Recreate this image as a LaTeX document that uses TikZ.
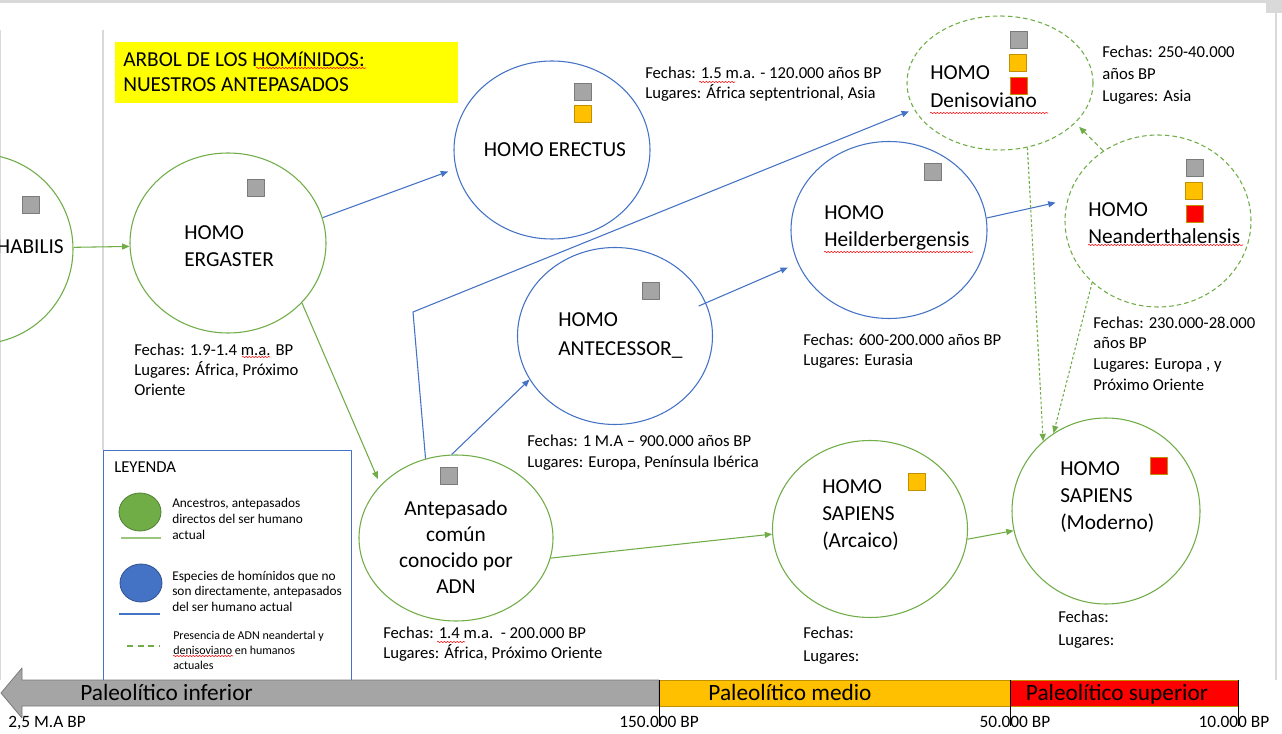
\documentclass[tikz,border=0pt]{standalone}
\usepackage{fontspec}
\setmainfont{Carlito}
\usetikzlibrary{arrows.meta,shapes.geometric,decorations.pathmorphing}

\definecolor{grnline}{HTML}{70AD47}
\definecolor{grnedge}{HTML}{507E32}
\definecolor{bluline}{HTML}{4472C4}
\definecolor{bluedge}{HTML}{2F528F}
\definecolor{sqgray}{HTML}{A5A5A5}
\definecolor{sqedge}{HTML}{7A7A7A}
\definecolor{orng}{HTML}{FFC000}
\definecolor{gold}{HTML}{BF9000}
\definecolor{ttlyel}{HTML}{FFFF00}
\definecolor{frame}{HTML}{D9D9D9}

\tikzset{
  hom/.style={ellipse,inner sep=0pt,line width=0.8pt},
  ances/.style={hom,draw=grnline},
  otra/.style={hom,draw=bluline},
  adn/.style={hom,draw=grnline,dash pattern=on 3.4pt off 2.3pt},
  lbl/.style={anchor=base west,align=left,inner sep=0pt,font=\fontsize{16}{20.25}\selectfont},
  info/.style={anchor=base west,align=left,inner sep=0pt,font=\fontsize{12.5}{15.5}\selectfont},
  grnarr/.style={->,draw=grnline,line width=0.8pt},
  bluarr/.style={->,draw=bluline,line width=0.8pt},
  adnarr/.style={->,draw=grnline,line width=0.8pt,dash pattern=on 2pt off 1.6pt},
  sqg/.style={fill=sqgray,draw=sqedge,line width=0.6pt},
  sqo/.style={fill=orng,draw=gold,line width=0.6pt},
  sqr/.style={fill=red,draw=gold,line width=0.6pt},
  spell/.style={draw=red,line width=0.4pt,decorate,decoration={snake,amplitude=0.45pt,segment length=2.4pt}}
}

\begin{document}
\begin{tikzpicture}[x=0.75pt,y=-0.75pt,>={Triangle[length=5.5pt,width=4.5pt]},line join=round]
  \useasboundingbox (0,0) rectangle (1282,734);
  \fill[white] (0,0) rectangle (1282,734);
  \fill[frame] (0,0) rectangle (1266,3);
  \fill[frame] (1266,0) rectangle (1282,13);
  \draw[frame,line width=0.8pt] (0.5,30) -- (0.5,680);
  \draw[frame,line width=0.8pt] (103,30) -- (103,450);
  \draw[frame,line width=0.8pt] (1276,13) -- (1276,680);

  % titulo
  \node[fill=ttlyel,minimum width=257.25pt,minimum height=45.75pt,inner sep=0pt,anchor=north west] (titulo) at (115,42) {};
  \node[lbl,font=\fontsize{16}{18.75}\selectfont] (titulo-txt) at (123,92) {ARBOL DE LOS HOMíNIDOS:\\NUESTROS ANTEPASADOS};
  \draw[spell] (256,68) -- (366,68);

  % especies
  \node[ances,minimum width=142.5pt,minimum height=142.5pt] (habilis) at (-22,249) {};
  \node[ances,minimum width=147pt,minimum height=135pt] (ergaster) at (228,243) {};
  \node[otra,minimum width=147pt,minimum height=133.5pt] (erectus) at (552,150) {};
  \node[otra,minimum width=146.25pt,minimum height=132.75pt] (antecessor) at (615,336) {};
  \node[otra,minimum width=147pt,minimum height=132.75pt] (heil) at (889,230) {};
  \node[adn,minimum width=139.5pt,minimum height=100.5pt] (denis) at (1000,83) {};
  \node[adn,minimum width=139.5pt,minimum height=129pt] (neander) at (1158,221) {};
  \node[ances,minimum width=145.5pt,minimum height=124.5pt] (antepasado) at (456,538) {};
  \node[ances,minimum width=146.25pt,minimum height=132.75pt] (arcaico) at (870,529) {};
  \node[ances,minimum width=141pt,minimum height=139.5pt] (moderno) at (1106,511) {};

  \node[lbl,anchor=base east] (habilis-txt) at (64,254) {HABILIS};
  \node[lbl] (ergaster-txt) at (184,267) {HOMO\\ERGASTER};
  \node[lbl,anchor=base] (erectus-txt) at (555,157) {HOMO ERECTUS};
  \node[lbl,font=\fontsize{16}{21}\selectfont] (antecessor-txt) at (558,355) {HOMO\\ANTECESSOR\_};
  \node[lbl] (heil-txt) at (824,247) {HOMO\\Heilderbergensis};
  \node[lbl,font=\fontsize{16}{21}\selectfont] (denis-txt) at (930,108) {HOMO\\Denisoviano};
  \node[lbl] (neander-txt) at (1088,244) {HOMO\\Neanderthalensis};
  \node[lbl,anchor=base,align=center,font=\fontsize{16}{19.5}\selectfont] (antepasado-txt) at (456,593) {Antepasado\\común\\conocido por\\ADN};
  \node[lbl] (arcaico-txt) at (822,547) {HOMO\\SAPIENS\\(Arcaico)};
  \node[lbl,font=\fontsize{16}{19.9}\selectfont] (moderno-txt) at (1060,529) {HOMO\\SAPIENS\\(Moderno)};
  \draw[spell] (824,252) -- (973,252);
  \draw[spell] (930,113) -- (1048,113);
  \draw[spell] (1088,245) -- (1243,245);

  % marcas de ADN
  \filldraw[sqg] (22,196) rectangle ++(17,17);
  \filldraw[sqg] (247,179) rectangle ++(17,17);
  \filldraw[sqg] (574,83) rectangle ++(17,17);
  \filldraw[sqo] (574,105) rectangle ++(17,17);
  \filldraw[sqg] (642,282) rectangle ++(17,17);
  \filldraw[sqg] (924,163) rectangle ++(17,17);
  \filldraw[sqg] (1010,31) rectangle ++(17,17);
  \filldraw[sqo] (1009,54) rectangle ++(17,17);
  \filldraw[sqr] (1010,77) rectangle ++(17,17);
  \filldraw[sqg] (1186,159) rectangle ++(17,17);
  \filldraw[sqo] (1185,182) rectangle ++(17,17);
  \filldraw[sqr] (1186,205) rectangle ++(17,17);
  \filldraw[sqg] (440,467) rectangle ++(17,17);
  \filldraw[sqo] (908,473) rectangle ++(17,17);
  \filldraw[sqr] (1150,457) rectangle ++(17,17);

  % fechas y lugares
  \node[info,font=\fontsize{12.5}{15}\selectfont] (ergaster-info) at (134,396) {Fechas: 1.9-1.4 m.a. BP\\Lugares: África, Próximo\\Oriente};
  \node[info] (erectus-info) at (645,99) {Fechas: 1.5 m.a. - 120.000 años BP\\Lugares: África septentrional, Asia};
  \node[info,font=\fontsize{12.5}{16.5}\selectfont] (denis-info) at (1102,102) {Fechas: 250-40.000\\años BP\\Lugares: Asia};
  \node[info] (heil-info) at (803,366) {Fechas: 600-200.000 años BP\\Lugares: Eurasia};
  \node[info] (antecessor-info) at (527,467) {Fechas: 1 M.A -- 900.000 años BP\\Lugares: Europa, Península Ibérica};
  \node[info] (neander-info) at (1093,390) {Fechas: 230.000-28.000\\años BP\\Lugares: Europa , y\\Próximo Oriente};
  \node[info,font=\fontsize{12.5}{15}\selectfont] (antepasado-info) at (383,658) {Fechas: 1.4 m.a.\ \ - 200.000 BP\\Lugares: África, Próximo Oriente};
  \node[info,font=\fontsize{12.5}{17.25}\selectfont] (arcaico-info) at (803,661) {Fechas:\\Lugares:};
  \node[info,font=\fontsize{12.5}{17.25}\selectfont] (moderno-info) at (1058,645) {Fechas:\\Lugares:};
  \draw[spell] (242,357) -- (270,357);
  \draw[spell] (699,82) -- (735,82);
  \draw[spell] (437,642) -- (465,642);

  % conexiones
  \coordinate (bend) at (413,312);
  \draw[grnarr] (habilis.1) -- (ergaster.182);
  \draw[bluarr,shorten >=6pt] (ergaster.15) -- (erectus.191);
  \draw[grnarr,shorten >=5pt] (ergaster.-39) -- (antepasado.145);
  \draw[bluarr,shorten >=4pt] (antepasado.111) -- (bend) -- (denis.197);
  \draw[bluarr] (antepasado.93) -- (antecessor.207);
  \draw[bluarr,shorten <=-6pt,shorten >=8pt] (antecessor.20.5) -- (heil.200.6);
  \draw[bluarr,shorten >=9pt] (heil.7.6) -- (neander.167.4);
  \draw[grnarr] (antepasado.-12) -- (arcaico.183.5);
  \draw[grnarr] (arcaico.-6.4) -- (moderno.192.3);
  \draw[adnarr,dash pattern=on 3.4pt off 2.3pt,shorten >=4pt] (neander.128.5) -- (denis.-28.3);
  \draw[adnarr] (denis.-67.4) -- (moderno.132.3);
  \draw[adnarr] (neander.223.4) -- (moderno.124);

  % leyenda
  \draw[bluline,line width=0.6pt,fill=white] (103,450) rectangle (351,690);
  \node[info,font=\fontsize{12.5}{15}\selectfont] (leyenda) at (114,472) {LEYENDA};
  \node[hom,fill=grnline,draw=grnedge,line width=0.6pt,minimum width=31.5pt,minimum height=28.5pt] (leg-anc) at (140,512) {};
  \draw[grnline!70!white,line width=0.8pt] (121,538) -- (161,538);
  \node[info,font=\fontsize{10}{12}\selectfont] (leg-anc-txt) at (172,539) {Ancestros, antepasados\\directos del ser humano\\actual};
  \node[hom,fill=bluline,draw=bluedge,line width=0.6pt,minimum width=31.5pt,minimum height=28.5pt] (leg-otra) at (141,583) {};
  \draw[bluline,line width=0.8pt] (119,614) -- (160,614);
  \node[info,font=\fontsize{10}{11.6}\selectfont] (leg-otra-txt) at (172,611) {Especies de homínidos que no\\son directamente, antepasados\\del ser humano actual};
  \draw[grnline,line width=0.8pt,dash pattern=on 4.5pt off 3.5pt] (127,646) -- (160,646);
  \node[info,font=\fontsize{9}{10.9}\selectfont] (leg-adn-txt) at (173,669) {Presencia de ADN neandertal y\\denisoviano en humanos\\actuales};
  \draw[spell] (173,656) -- (233,656);

  % linea de tiempo
  \filldraw[fill=sqgray,draw=sqedge,line width=0.6pt] (22,668) -- (1,693) -- (22,718) -- (22,706) -- (659,706) -- (659,680) -- (22,680) -- cycle;
  \filldraw[fill=orng,draw=gold,line width=0.6pt] (659,680) rectangle (1010,706);
  \filldraw[fill=red,draw=gold,line width=0.6pt] (1010,680) rectangle (1238,706);
  \draw[black,line width=0.6pt] (659,680) -- (659,726);
  \draw[black,line width=0.6pt] (1010,680) -- (1010,726);
  \draw[black,line width=0.6pt] (1238,680) -- (1238,726);
  \node[lbl,font=\fontsize{17.5}{20}\selectfont] (inferior) at (80,700) {Paleolítico inferior};
  \node[lbl,anchor=base,font=\fontsize{17.5}{20}\selectfont] (medio) at (790,700) {Paleolítico medio};
  \node[lbl,anchor=base,font=\fontsize{17.5}{20}\selectfont] (superior) at (1117,700) {Paleolítico superior};
  \node[info,font=\fontsize{13}{15}\selectfont] (t-inicio) at (8,727) {2,5 M.A BP};
  \node[info,anchor=base,font=\fontsize{13}{15}\selectfont] (t-150) at (659,727) {150.000 BP};
  \node[info,anchor=base,font=\fontsize{13}{15}\selectfont] (t-50) at (1015,727) {50.000 BP};
  \node[info,anchor=base,font=\fontsize{13}{15}\selectfont] (t-10) at (1234,727) {10.000 BP};
\end{tikzpicture}
\end{document}
